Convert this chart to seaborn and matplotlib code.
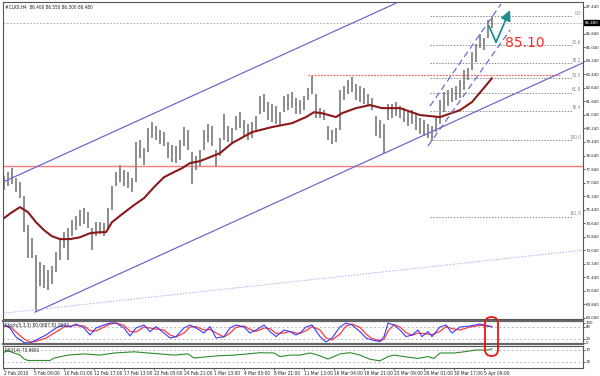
import numpy as np
import pandas as pd
import matplotlib
matplotlib.use("Agg")
import matplotlib.pyplot as plt
import matplotlib.transforms as mtransforms
from matplotlib.patches import FancyBboxPatch
import seaborn as sns

# ---------------- data ----------------
header_text = "#CLK0,H4  86.400 86.550 86.300 86.480"
last_price = 86.48

# H4 bar numbers (every second bar is drawn)
bar_num = list(range(0, 246, 2))
bar_high = [
    77.42, 77.66, 77.89, 77.30, 77.07, 76.24, 74.52, 73.76, 72.75, 72.34,
    72.16, 71.86, 72.10, 72.93, 73.76, 74.11, 74.35, 74.82, 75.06, 75.41,
    75.53, 75.29, 74.35, 74.70, 74.70, 74.64, 75.53, 76.83, 77.66, 78.07,
    77.78, 77.66, 77.30, 79.43, 79.55, 79.08, 80.26, 80.61, 80.38, 80.14,
    80.02, 79.43, 79.25, 79.20, 79.55, 80.32, 80.14, 78.84, 78.60, 78.96,
    80.14, 80.50, 80.38, 78.96, 79.67, 81.09, 80.38, 80.26, 80.97, 81.21,
    80.73, 80.50, 80.61, 80.97, 82.15, 82.27, 81.80, 81.68, 81.56, 81.21,
    82.15, 82.27, 82.39, 82.03, 81.92, 82.15, 82.62, 83.33, 82.27, 81.44,
    81.32, 80.38, 80.14, 80.26, 82.50, 82.74, 83.10, 83.27, 82.86, 82.74,
    82.62, 82.27, 82.03, 80.97, 80.73, 80.50, 81.68, 81.68, 81.80, 81.56,
    81.44, 81.21, 81.32, 81.09, 80.85, 80.73, 80.50, 80.38, 80.97, 81.92,
    82.39, 82.50, 82.62, 82.74, 83.10, 83.69, 83.81, 84.75, 85.22, 85.81,
    85.58, 86.64, 86.88]
bar_low = [
    76.59, 76.83, 76.95, 76.47, 76.12, 74.11, 72.57, 72.57, 69.38, 70.92,
    70.80, 70.68, 71.03, 71.74, 72.45, 73.17, 72.45, 73.87, 74.23, 74.47,
    74.58, 74.35, 73.05, 73.87, 73.99, 73.87, 74.23, 75.41, 76.83, 77.07,
    76.83, 76.71, 76.47, 77.07, 78.48, 78.07, 78.84, 79.67, 79.55, 79.31,
    79.20, 78.48, 78.25, 78.19, 78.37, 79.20, 78.96, 76.95, 77.78, 78.01,
    78.96, 79.43, 79.20, 78.01, 78.60, 79.55, 79.43, 79.31, 80.14, 80.26,
    79.79, 79.55, 79.67, 80.14, 81.09, 81.21, 80.73, 80.61, 80.50, 80.38,
    81.21, 81.32, 81.44, 81.09, 81.09, 81.32, 81.92, 82.27, 80.85, 80.85,
    80.73, 79.55, 79.31, 79.43, 80.14, 81.92, 82.27, 82.39, 81.92, 81.80,
    81.68, 81.56, 81.32, 79.79, 79.67, 78.78, 80.73, 80.85, 80.97, 80.85,
    80.61, 80.38, 80.50, 80.14, 79.91, 79.79, 79.67, 79.49, 80.02, 80.50,
    81.21, 81.56, 81.80, 81.92, 82.03, 82.50, 83.10, 83.69, 84.16, 84.99,
    84.87, 85.58, 86.17]

ma_bar = [0, 4, 8, 12, 16, 20, 24, 28, 33, 38, 43, 48, 51, 54, 59, 65, 70, 75,
          80, 85, 89, 93, 98, 103, 108, 114, 124, 134, 144, 151, 155, 159, 166,
          169, 176, 183, 189, 198, 208, 218, 228, 234, 239, 244]
ma_val = [74.94, 75.29, 75.59, 75.29, 74.70, 74.23, 73.87, 73.70, 73.70, 73.81,
          74.05, 74.11, 74.11, 74.70, 75.17, 75.71, 76.12, 76.77, 77.36, 77.66,
          77.89, 78.19, 78.31, 78.54, 78.78, 79.37, 80.02, 80.32, 80.55, 80.91,
          81.20, 81.14, 80.91, 81.14, 81.44, 81.62, 81.44, 81.44, 81.03, 80.91,
          81.32, 81.80, 82.50, 83.21]

stoch_bar = [0, 3, 6, 10, 13, 16, 21, 26, 30, 33, 36, 40, 43, 46, 50, 53, 56, 60,
             63, 66, 70, 73, 76, 80, 83, 86, 90, 93, 96, 100, 103, 106, 110, 113,
             116, 120, 123, 126, 130, 133, 136, 140, 143, 146, 148, 151, 154, 158,
             161, 164, 168, 171, 174, 178, 181, 184, 188, 190, 192, 195, 198, 201,
             204, 207, 209, 212, 214, 218, 221, 224, 228, 233, 238, 241, 244]
stoch_main = [90, 75, 30, 2, 0, 15, 40, 75, 90, 80, 95, 75, 40, 75, 90, 100, 100,
              75, 35, 75, 90, 57, 82, 50, 25, 32, 75, 90, 75, 50, 82, 25, 32, 75,
              90, 80, 50, 65, 90, 57, 32, 65, 57, 40, 50, 80, 90, 32, 5, 25, 80,
              100, 90, 57, 25, 15, 7, 32, 100, 90, 65, 32, 40, 65, 32, 57, 32, 80,
              90, 50, 80, 85, 95, 88, 80]
stoch_signal = [85, 82, 55, 20, 5, 8, 25, 55, 80, 85, 88, 85, 62, 60, 80, 95, 100,
                88, 58, 55, 80, 75, 70, 65, 40, 30, 50, 80, 82, 65, 68, 50, 30, 50,
                78, 85, 68, 58, 75, 72, 48, 50, 58, 50, 48, 62, 82, 65, 25, 15, 45,
                85, 95, 78, 45, 22, 12, 18, 60, 92, 80, 52, 38, 50, 48, 45, 42, 58,
                82, 72, 65, 80, 88, 86, 82]
stoch_text = "Stoch(5,3,3) 80.0687 81.9073"

rsi_bar = [0, 2, 5, 8, 10, 12, 14, 18, 23, 25, 32, 40, 48, 55, 65, 72, 78, 85, 92,
           95, 102, 108, 115, 122, 128, 135, 138, 143, 148, 153, 157, 162, 165,
           168, 173, 178, 183, 188, 192, 195, 202, 207, 212, 215, 218, 225, 230,
           236, 242, 244]
rsi_val = [62, 68, 60, 53, 40, 35, 35, 35, 35, 43, 53, 57, 53, 60, 64, 60, 57, 53,
           57, 43, 48, 51, 53, 57, 61, 60, 48, 53, 53, 60, 53, 40, 48, 57, 61, 53,
           39, 34, 48, 53, 46, 42, 48, 42, 60, 60, 64, 70, 70, 74]
rsi_text = "RSI(14) 73.9691"

# trend lines: (bar numbers, prices)
chan_up_x, chan_up_y = [-0.5, 196.0], [77.07, 87.64]
chan_lo_x, chan_lo_y = [15.5, 289.5], [69.38, 84.12]
dash_up_x, dash_up_y = [213.0, 248.5], [81.56, 87.59]
dash_lo_x, dash_lo_y = [212.0, 253.0], [79.20, 86.05]
faint_x, faint_y = [-0.5, 289.5], [69.32, 73.05]
arrow_x, arrow_y = [242.5, 246.0, 253.0], [86.29, 85.34, 87.23]
target_text, target_price, target_bar = "85.10", 85.28, 250.5

support_price = 78.01
resist_price, resist_from, resist_to = 83.39, 152, 278

fib_high, fib_low = 86.88, 79.55
fib_levels = [0.0, 23.6, 38.2, 50.0, 61.8, 76.4, 100.0, 161.8]
fib_from, fib_to = 213, 284

price_ticks = [round(69.04 + 0.8 * k, 2) for k in range(24)]
hidden_tick = 86.64   # covered by the last-price box
date_ticks = [15 * k for k in range(17)]
date_labels = ["2 Feb 2010", "5 Feb 09:00", "10 Feb 01:00", "12 Feb 17:00",
               "17 Feb 13:00", "22 Feb 05:00", "24 Feb 21:00", "1 Mar 13:00",
               "4 Mar 05:00", "8 Mar 21:00", "11 Mar 13:00", "16 Mar 04:00",
               "18 Mar 21:00", "23 Mar 09:00", "26 Mar 01:00", "30 Mar 17:00",
               "5 Apr 09:00"]

# ---------------- figure ----------------
sns.set_theme(style="white")
plt.rcParams['font.family'] = ['DejaVu Sans']
plt.rcParams['font.stretch'] = 'condensed'

W, H = 600, 376
fig = plt.figure(figsize=(6, 3.76), dpi=100)
fig.patch.set_facecolor("white")


def rect(x0, y0, x1, y1):
    return [x0 / W, 1 - y1 / H, (x1 - x0) / W, (y1 - y0) / H]


ax_p = fig.add_axes(rect(3, 2, 583, 319))
ax_s = fig.add_axes(rect(3, 321, 583, 344))
ax_r = fig.add_axes(rect(3, 346, 583, 368))

XL = (-0.5, 289.5)
FS = 3.2
for ax in (ax_p, ax_s, ax_r):
    ax.set_xlim(*XL)
    ax.set_facecolor("white")
    ax.yaxis.tick_right()
    ax.tick_params(axis="y", labelsize=FS, length=1.5, pad=0.6, colors="#222222",
                   direction="out", right=True, width=0.5)
    for s in ax.spines.values():
        s.set_color("#555555")
        s.set_linewidth(0.8)

# ---- price panel ----
ax_p.set_ylim(68.98, 87.71)
ax_p.set_yticks(price_ticks)
ax_p.set_yticklabels(["" if abs(v - hidden_tick) < 1e-6 else f"{v:.3f}"
                      for v in price_ticks])
ax_p.set_xticks([])

# horizontal levels
ax_p.axhline(support_price, color="#ff7a7a", lw=1.0)
ax_p.hlines(resist_price, resist_from, resist_to, color="#ff6666", lw=0.9,
            linestyles=(0, (1.5, 1)))
ax_p.axhline(last_price, color="#b0b0b0", lw=0.8, ls=(0, (1.5, 1.5)))

# fibonacci
fib_rng = fib_high - fib_low
for lv in fib_levels:
    pr = fib_high - lv / 100.0 * fib_rng
    ax_p.hlines(pr, fib_from, fib_to, color="#8c8c8c", lw=0.7,
                linestyles=(0, (1.5, 1.5)))
    ax_p.text(288.5, pr + 0.03, f"{lv:.1f}", fontsize=3.3, color="#888888",
              ha="right", va="bottom")

# bars
ax_p.vlines(bar_num, bar_low, bar_high, color="#8c8c8c", lw=1.4)

# moving average
sns.lineplot(x=ma_bar, y=ma_val, ax=ax_p, color="#8b1a1a", lw=1.5,
             legend=False, estimator=None)

# channel lines
chan_col = "#6b6bcc"
sns.lineplot(x=chan_up_x, y=chan_up_y, ax=ax_p, color=chan_col, lw=0.9,
             legend=False, estimator=None)
sns.lineplot(x=chan_lo_x, y=chan_lo_y, ax=ax_p, color=chan_col, lw=0.9,
             legend=False, estimator=None)
sns.lineplot(x=dash_up_x, y=dash_up_y, ax=ax_p, color=chan_col, lw=0.9,
             linestyle=(0, (5, 3)), legend=False, estimator=None)
sns.lineplot(x=dash_lo_x, y=dash_lo_y, ax=ax_p, color=chan_col, lw=0.9,
             linestyle=(0, (5, 3)), legend=False, estimator=None)
sns.lineplot(x=faint_x, y=faint_y, ax=ax_p, color="#aab0e8", lw=0.7,
             linestyle=(0, (1.5, 1.5)), legend=False, estimator=None)

# arrow
teal = "#1b8f8f"
sns.lineplot(x=arrow_x[:2], y=arrow_y[:2], ax=ax_p, color=teal, lw=1.3,
             legend=False, estimator=None)
ax_p.annotate("", xy=(arrow_x[2], arrow_y[2]), xytext=(arrow_x[1], arrow_y[1]),
              arrowprops=dict(arrowstyle="-|>,head_length=0.5,head_width=0.25",
                              color=teal, lw=1.3, shrinkA=0, shrinkB=0))
ax_p.text(target_bar, target_price, target_text, color="#ff2a2a", fontsize=10,
          ha="left", va="center", fontstretch="normal")

# header
ax_p.text(0.004, 0.99, header_text, transform=ax_p.transAxes, fontsize=3.4,
          color="#222222", ha="left", va="top")

# last price box
btr = mtransforms.blended_transform_factory(ax_p.transAxes, ax_p.transData)
ax_p.text(1.003, last_price, f"{last_price:.3f}", transform=btr, fontsize=FS,
          color="white", ha="left", va="center", zorder=20,
          bbox=dict(facecolor="black", edgecolor="black", pad=0.4))

# ---- stochastic panel ----
ax_s.set_ylim(-5, 110)
ax_s.set_yticks([100, 80, 20, 0])
ax_s.set_yticklabels(["100", "80", "20", "0"])
ax_s.set_xticks([])
for lv in (80, 20):
    ax_s.axhline(lv, color="#a8a8a8", lw=0.6, ls=(0, (2, 3)))
sns.lineplot(x=stoch_bar, y=stoch_signal, ax=ax_s, color="#ff3b3b", lw=0.9,
             legend=False, estimator=None)
sns.lineplot(x=stoch_bar, y=stoch_main, ax=ax_s, color="#3b3bff", lw=0.8,
             legend=False, estimator=None)
ax_s.text(0.004, 0.93, stoch_text, transform=ax_s.transAxes, fontsize=3.4,
          color="#222222", ha="left", va="top")
for side in ("top", "bottom"):
    ax_s.spines[side].set_linewidth(1.6)
    ax_s.spines[side].set_color("#666666")

# ---- RSI panel ----
ax_r.set_ylim(10, 83.3)
ax_r.set_yticks([70, 30])
ax_r.set_yticklabels(["70", "30"])
for lv in (70, 30):
    ax_r.axhline(lv, color="#a8a8a8", lw=0.6, ls=(0, (2, 3)))
sns.lineplot(x=rsi_bar, y=rsi_val, ax=ax_r, color="#2e8b2e", lw=0.8,
             legend=False, estimator=None)
ax_r.text(0.004, 0.93, rsi_text, transform=ax_r.transAxes, fontsize=3.4,
          color="#222222", ha="left", va="top")
ax_r.set_xticks(date_ticks)
ax_r.set_xticklabels(date_labels, fontsize=3.5, ha="left", color="#222222")
ax_r.tick_params(axis="x", length=1.5, pad=0.5, width=0.5, direction="out",
                 bottom=True)
for ax in (ax_p, ax_s, ax_r):
    ax.set_xlim(*XL)
    ax.set_xlabel("")
    ax.set_ylabel("")

# red capsule around the latest oscillator readings
cap = FancyBboxPatch((4.85, 0.20), 0.13, 0.39,
                     boxstyle="round,pad=0,rounding_size=0.065",
                     transform=fig.dpi_scale_trans, fill=False,
                     edgecolor="#ee1111", lw=1.3, zorder=10)
fig.add_artist(cap)

fig.savefig("out.png", dpi=100, facecolor="white")
